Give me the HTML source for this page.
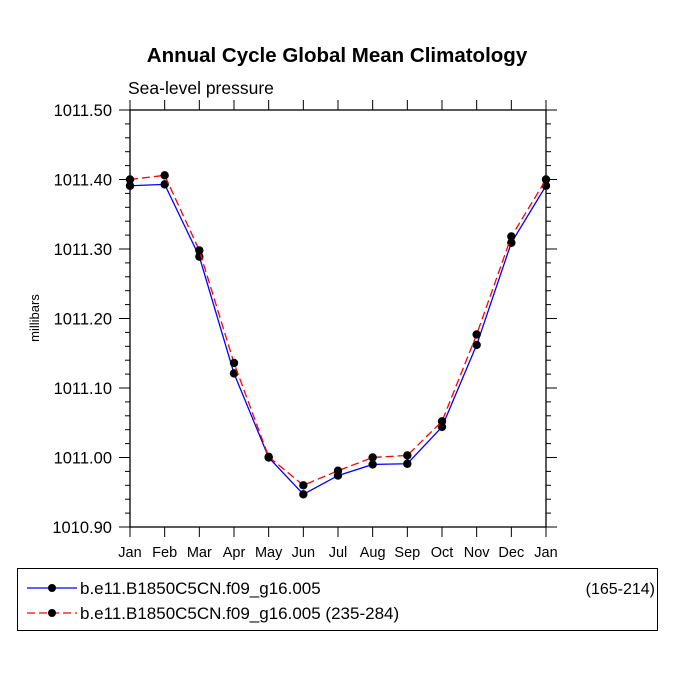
<!DOCTYPE html>
<html><head><meta charset="utf-8"><style>
body{margin:0;background:#fff}
svg text{font-family:"Liberation Sans",sans-serif;fill:#000}
</style></head><body>
<svg id="c" width="675" height="676">
<text x="337" y="62" font-size="20.5" font-weight="bold" text-anchor="middle">Annual Cycle Global Mean Climatology</text>
<text x="128" y="94" font-size="17.5">Sea-level pressure</text>
<text transform="translate(39,318) rotate(-90)" font-size="13" text-anchor="middle">millibars</text>
<g id="ax"></g>
<g id="series"></g>
<rect x="17.5" y="568.5" width="640" height="62" fill="none" stroke="#000" stroke-width="1"/>
<g>
<line x1="27" y1="588" x2="77" y2="588" stroke="#0000ff" stroke-width="1.3"/>
<circle cx="52" cy="588" r="4" fill="#000"/>
<text x="80" y="594" font-size="17">b.e11.B1850C5CN.f09_g16.005</text>
<text x="655" y="594" font-size="16" text-anchor="end">(165-214)</text>
</g>
<g>
<line x1="27" y1="613" x2="77" y2="613" stroke="#ff0000" stroke-width="1.3" stroke-dasharray="8,4"/>
<circle cx="52" cy="613" r="4" fill="#000"/>
<text x="80" y="619" font-size="17">b.e11.B1850C5CN.f09_g16.005 (235-284)</text>
</g>
</svg>
<script>
const months=["Jan","Feb","Mar","Apr","May","Jun","Jul","Aug","Sep","Oct","Nov","Dec","Jan"];
const blueVals=[1011.391,1011.393,1011.289,1011.121,1011.000,1010.947,1010.974,1010.990,1010.991,1011.044,1011.162,1011.309,1011.391];
const redVals=[1011.400,1011.406,1011.298,1011.136,1011.001,1010.960,1010.981,1011.000,1011.003,1011.052,1011.177,1011.318,1011.400];
const yTicks=[1010.90,1011.00,1011.10,1011.20,1011.30,1011.40,1011.50];
const L=130,R=546,T=110,B=527,ymin=1010.9,ymax=1011.5;
const NS="http://www.w3.org/2000/svg";
const xs=i=>L+(R-L)*i/(months.length-1);
const ys=v=>B-(v-ymin)/(ymax-ymin)*(B-T);
function mk(t,a,p){const e=document.createElementNS(NS,t);for(const k in a)e.setAttribute(k,a[k]);p.appendChild(e);return e;}
const ax=document.getElementById('ax');
const fr=mk('rect',{x:L,y:T,width:R-L,height:B-T,fill:'none',stroke:'#000','stroke-width':1.3},ax);


months.forEach((m,i)=>{
  const x=xs(i);
  mk('line',{x1:x,y1:B,x2:x,y2:B+10,stroke:'#000'},ax);
  mk('line',{x1:x,y1:T,x2:x,y2:T-10,stroke:'#000'},ax);
  const t=mk('text',{x:x,y:B+30,'font-size':14.5,'text-anchor':'middle'},ax);
  t.textContent=m;
  
  
});
for(let v=ymin;v<=ymax+1e-9;v+=0.02){
  const y=ys(v);
  mk('line',{x1:L,y1:y,x2:L-5,y2:y,stroke:'#000'},ax);
  mk('line',{x1:R,y1:y,x2:R+5,y2:y,stroke:'#000'},ax);
}
yTicks.forEach(v=>{
  const y=ys(v);
  mk('line',{x1:L,y1:y,x2:L-11,y2:y,stroke:'#000'},ax);
  mk('line',{x1:R,y1:y,x2:R+11,y2:y,stroke:'#000'},ax);
  const t=mk('text',{x:L-18,y:y+6,'font-size':16.5,'text-anchor':'end'},ax);
  t.textContent=v.toFixed(2);
  
  
});
const sg=document.getElementById('series');
function series(vals,col,dash,name){
  const g=mk('g',{},sg);
  
  
  mk('polyline',{points:vals.map((v,i)=>xs(i)+','+ys(v)).join(' '),fill:'none',stroke:col,'stroke-width':1.3,'stroke-dasharray':dash},g);
  vals.forEach((v,i)=>{
    const c=mk('circle',{cx:xs(i),cy:ys(v),r:4.2,fill:'#000'},g);
    
    
  });
}
series(blueVals,'#0000ff','none','series-165-214');
series(redVals,'#ff0000','8,4','series-235-284');
</script>
</body></html>
